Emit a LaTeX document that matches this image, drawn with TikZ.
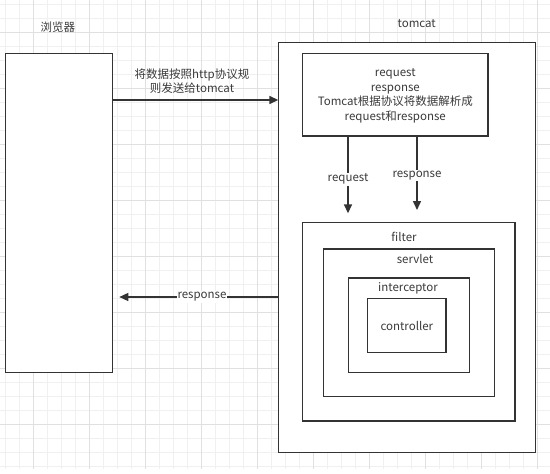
\documentclass[tikz,border=0pt]{standalone}
\usepackage{fontspec}
\setmainfont{Noto Sans CJK SC}
\usetikzlibrary{arrows.meta}
\definecolor{ink}{HTML}{333333}
\definecolor{txt}{HTML}{3A3A3A}
\definecolor{gminor}{HTML}{F0F0F0}
\definecolor{gmajor}{HTML}{E0E0E0}
\begin{document}
\begin{tikzpicture}[x=1pt,y=-1pt,
  box/.style={draw=ink,line width=1.5pt,fill=white,anchor=north west,inner sep=0pt,outer sep=0pt},
  lbl/.style={text=txt,font=\fontsize{11.5}{14.5}\selectfont,inner sep=1pt},
  arr/.style={draw=ink,line width=1.5pt,-{Triangle[length=9pt,width=8pt]}}]
\useasboundingbox (0,0) rectangle (550,474);
\fill[white] (0,0) rectangle (550,474);
% grid
\foreach \k in {0,...,38} {\draw[gminor,line width=0.8pt] (5.7+14*\k,0) -- (5.7+14*\k,469);}
\foreach \k in {0,...,33} {\draw[gminor,line width=0.8pt] (0,4.3+14*\k) -- (550,4.3+14*\k);}
\foreach \k in {0,...,9} {\draw[gmajor,line width=0.8pt] (33.7+56*\k,0) -- (33.7+56*\k,469);}
\foreach \k in {0,...,7} {\draw[gmajor,line width=0.8pt] (0,32.3+56*\k) -- (550,32.3+56*\k);}
% boxes
\node[box,minimum width=107pt,minimum height=319.4pt] (browser) at (5.7,53.3) {};
\node[box,minimum width=257.2pt,minimum height=410pt] (tomcat) at (278.3,42.3) {};
\node[box,minimum width=185.3pt,minimum height=82.7pt] (parse) at (302.7,53.3) {};
\node[lbl,align=center] (parsetext) at (395.3,95.8) {request\\response\\Tomcat根据协议将数据解析成\\request和response};
\node[box,minimum width=212.3pt,minimum height=198.3pt] (filter) at (302.7,222.7) {};
\node[box,minimum width=170.6pt,minimum height=147.3pt] (servlet) at (323.7,249) {};
\node[box,minimum width=120.6pt,minimum height=94.7pt] (interceptor) at (348.7,278) {};
\node[box,minimum width=78.3pt,minimum height=54pt] (controller) at (367.7,298.7) {};
\node[lbl] (controllertext) at (controller.center) {controller};
% titles
\node[lbl] (browserlbl) at (58,27.3) {浏览器};
\node[lbl] (tomcatlbl) at (416.7,23.3) {tomcat};
\node[lbl] (filterlbl) at (404,236.7) {filter};
\node[lbl] (servletlbl) at (415,259) {servlet};
\node[lbl] (interceptorlbl) at (408,288) {interceptor};
% arrows
\coordinate (reqtip) at (348,213.3);
\coordinate (restip) at (417,210);
\coordinate (backtip) at (119.3,297);
\draw[arr] (browser.east |- 0,100) -- (tomcat.west |- 0,100);
\node[lbl,align=center] (sendlbl) at (192,81.2) {将数据按照http协议规\\则发送给tomcat};
\draw[arr] (parse.south -| reqtip) -- node[lbl,fill=white,pos=0.56] (reqlbl) {request} (reqtip);
\draw[arr] (parse.south -| restip) -- node[lbl,fill=white,pos=0.54] (reslbl) {response} (restip);
\draw[arr] (tomcat.west |- backtip) -- node[lbl,fill=white,pos=0.48] (backlbl) {response} (backtip);
\end{tikzpicture}
\end{document}
